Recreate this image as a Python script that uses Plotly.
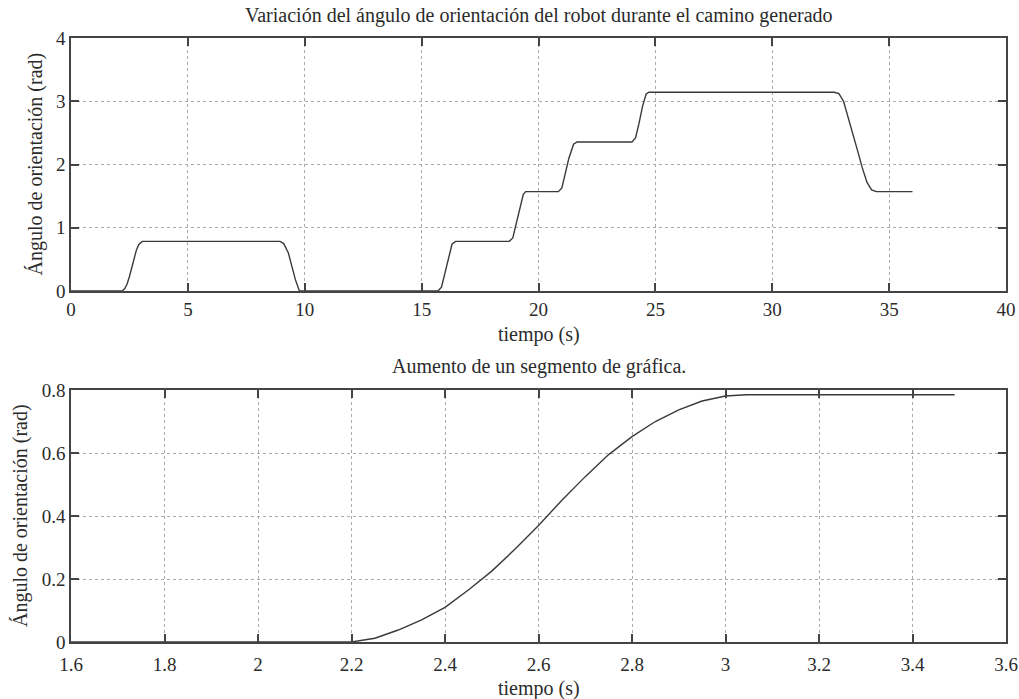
import plotly.graph_objects as go
from plotly.subplots import make_subplots

# Top: full path orientation angle (rad) vs time (s)
t_full = [0, 2.2, 2.3, 2.4, 2.5, 2.6, 2.7, 2.8, 2.9, 3.0, 3.05,
          8.94, 9.1, 9.3, 9.45, 9.6, 9.77,
          15.7, 15.85, 16.0, 16.15, 16.3, 16.45,
          18.75, 18.9, 19.05, 19.2, 19.35, 19.45,
          20.85, 21.0, 21.15, 21.3, 21.5, 21.65,
          24.0, 24.15, 24.3, 24.45, 24.6, 24.72,
          32.65, 32.85, 33.05, 33.25, 33.45, 33.65, 33.85, 34.05, 34.25, 34.45,
          36.0]
ang_full = [0, 0, 0.038, 0.11, 0.23, 0.37, 0.525, 0.65, 0.737, 0.781, 0.785,
            0.785, 0.75, 0.6, 0.39, 0.18, 0,
            0, 0.06, 0.3, 0.55, 0.74, 0.785,
            0.785, 0.84, 1.07, 1.33, 1.53, 1.571,
            1.571, 1.63, 1.85, 2.1, 2.32, 2.356,
            2.356, 2.42, 2.65, 2.92, 3.11, 3.1416,
            3.1416, 3.12, 3.0, 2.75, 2.5, 2.22, 1.95, 1.72, 1.6, 1.571,
            1.571]

# Bottom: zoom of the first rise
t_zoom = [1.6, 2.2, 2.25, 2.3, 2.35, 2.4, 2.45, 2.5, 2.55, 2.6, 2.65, 2.7,
          2.75, 2.8, 2.85, 2.9, 2.95, 3.0, 3.045, 3.49]
ang_zoom = [0, 0, 0.012, 0.038, 0.07, 0.11, 0.165, 0.225, 0.295, 0.37, 0.45, 0.525,
            0.595, 0.652, 0.70, 0.737, 0.765, 0.781, 0.785, 0.785]

title_top = "Variación del ángulo de orientación del robot durante el camino generado"
title_bot = "Aumento de un segmento de gráfica."
xlabel = "tiempo (s)"
ylabel = "Ángulo de orientación (rad)"

x1_ticks = [0, 5, 10, 15, 20, 25, 30, 35, 40]
y1_ticks = [0, 1, 2, 3, 4]
x2_ticks = [1.6, 1.8, 2.0, 2.2, 2.4, 2.6, 2.8, 3.0, 3.2, 3.4, 3.6]
x2_labels = ["1.6", "1.8", "2", "2.2", "2.4", "2.6", "2.8", "3", "3.2", "3.4", "3.6"]
y2_ticks = [0, 0.2, 0.4, 0.6, 0.8]
y2_labels = ["0", "0.2", "0.4", "0.6", "0.8"]

FONT = "Liberation Serif"
INK = "#2b2b2b"

fig = make_subplots(rows=2, cols=1)
fig.add_trace(go.Scatter(x=t_full, y=ang_full, mode="lines",
                         line=dict(color="#3a3a3a", width=1.4), showlegend=False), 1, 1)
fig.add_trace(go.Scatter(x=t_zoom, y=ang_zoom, mode="lines",
                         line=dict(color="#3a3a3a", width=1.4), showlegend=False), 2, 1)

axis_common = dict(showline=True, linecolor="#444", linewidth=1.5, mirror="allticks",
                   ticks="inside", ticklen=8, tickwidth=1.5, tickcolor="#444",
                   showgrid=True, gridcolor="#aaaaaa", griddash="dot", gridwidth=1,
                   zeroline=False, automargin=False,
                   tickfont=dict(family=FONT, size=19, color=INK))

fig.update_xaxes(**axis_common)
fig.update_yaxes(**axis_common)

fig.update_layout(
    xaxis=dict(domain=[0, 1], range=[0, 40], tickvals=x1_ticks, anchor="y"),
    yaxis=dict(domain=[0.5811, 1.0], range=[0, 4], tickvals=y1_ticks, anchor="x"),
    xaxis2=dict(domain=[0, 1], range=[1.6, 3.6], tickvals=x2_ticks, ticktext=x2_labels,
                anchor="y2", ticklabelstandoff=4),
    yaxis2=dict(domain=[0, 0.4172], range=[0, 0.8], tickvals=y2_ticks, ticktext=y2_labels, anchor="x2"),
    width=1019, height=699,
    margin=dict(l=71, r=13, t=38, b=57),
    paper_bgcolor="white", plot_bgcolor="white",
    font=dict(family=FONT, size=20, color=INK),
)

ann = dict(xref="paper", yref="paper", showarrow=False,
           font=dict(family=FONT, size=20, color=INK))
fig.add_annotation(text=title_top, x=0.5, y=1.038, xanchor="center", yanchor="middle", **ann)
fig.add_annotation(text=title_bot, x=0.5, y=0.4553, xanchor="center", yanchor="middle", **ann)
fig.add_annotation(text=xlabel, x=0.5, y=0.5099, xanchor="center", yanchor="middle", **ann)
fig.add_annotation(text=xlabel, x=0.5, y=-0.0762, xanchor="center", yanchor="middle", **ann)
fig.add_annotation(text=ylabel, x=-0.0385, y=0.7906, xanchor="center", yanchor="middle",
                   textangle=-90, **ann)
fig.add_annotation(text=ylabel, x=-0.0545, y=0.2086, xanchor="center", yanchor="middle",
                   textangle=-90, **ann)

fig.write_html("out.html")
